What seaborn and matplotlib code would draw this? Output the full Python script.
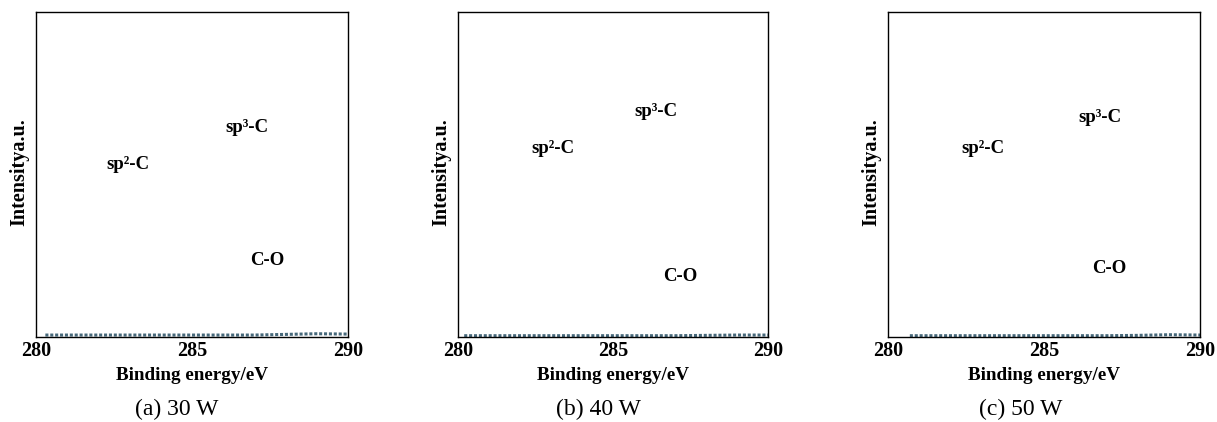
import matplotlib
matplotlib.use("Agg")
import matplotlib.pyplot as plt
import seaborn as sns
import pandas as pd

sns.set_theme(style="white")
plt.rcParams['font.family'] = ['Liberation Serif', 'DejaVu Serif']
plt.rcParams['text.color'] = 'black'
plt.rcParams['axes.labelcolor'] = 'black'
plt.rcParams['xtick.color'] = 'black'
plt.rcParams['ytick.color'] = 'black'

# Data (binding energy vs. normalized intensity)
energy_a = [280.3, 281, 282, 283, 284, 285, 286, 287, 288, 289, 290]
inten_a = [0.006, 0.006, 0.006, 0.006, 0.006, 0.006, 0.006, 0.006, 0.008, 0.010, 0.009]
energy_b = [280.2, 281, 282, 283, 284, 285, 286, 287, 288, 289, 290]
inten_b = [0.004, 0.004, 0.004, 0.004, 0.004, 0.004, 0.004, 0.004, 0.005, 0.006, 0.006]
energy_c = [280.7, 281, 282, 283, 284, 285, 286, 287, 288, 289, 290]
inten_c = [0.004, 0.004, 0.004, 0.004, 0.004, 0.004, 0.004, 0.004, 0.005, 0.007, 0.006]

captions = ["(a) 30 W", "(b) 40 W", "(c) 50 W"]
peak_labels = ["sp²-C", "sp³-C", "C-O"]
label_pos = [
    [(282.95, 0.53), (286.76, 0.646), (287.4, 0.234)],
    [(283.06, 0.58), (286.39, 0.694), (287.16, 0.185)],
    [(283.04, 0.58), (286.8, 0.676), (287.1, 0.21)],
]
xticks = [280, 285, 290]

series = [(energy_a, inten_a), (energy_b, inten_b), (energy_c, inten_c)]

fig = plt.figure(figsize=(12.17, 4.22), dpi=100)
W, H = 1217, 422
boxes = [(36, 348), (458, 768), (888, 1200)]
caption_x = [177, 598, 1021]
top, bottom = 12, 337

for i, ((x0, x1), (ex, iy)) in enumerate(zip(boxes, series)):
    ax = fig.add_axes([x0 / W, 1 - bottom / H, (x1 - x0) / W, (bottom - top) / H])
    df = pd.DataFrame({"energy": ex, "intensity": iy})
    sns.lineplot(data=df, x="energy", y="intensity", ax=ax, color="#46687a",
                 linewidth=2.2, linestyle=(0, (1, 0.6)))
    ax.set_xlim(280, 290)
    ax.set_ylim(0, 1)
    ax.set_xticks(xticks)
    ax.set_xticklabels([str(t) for t in xticks], fontweight="bold", fontsize=14.5)
    ax.set_yticks([])
    ax.tick_params(axis="x", direction="in", length=3, width=1, color="black", pad=3)
    for s in ax.spines.values():
        s.set_color("black")
        s.set_linewidth(1.0)
    ax.set_xlabel("Binding energy/eV", fontweight="bold", fontsize=13.8, labelpad=4)
    ax.set_ylabel("Intensitya.u.", fontweight="bold", fontsize=14.5)
    ax.yaxis.set_label_coords(-(x0 - (x0 - 36 + 29) + 0) / (x1 - x0) * 0 - (36 - 29) / (x1 - x0),
                              (bottom - 172) / (bottom - top))
    for lab, (lx, ly) in zip(peak_labels, label_pos[i]):
        ax.text(lx, ly, lab, fontweight="bold", fontsize=13.5, ha="center", va="center",
                transform=ax.get_xaxis_transform())
    fig.text(caption_x[i] / W, 1 - 409 / H, captions[i], ha="center", va="center",
             fontsize=17)

fig.savefig("out.png", dpi=100)
